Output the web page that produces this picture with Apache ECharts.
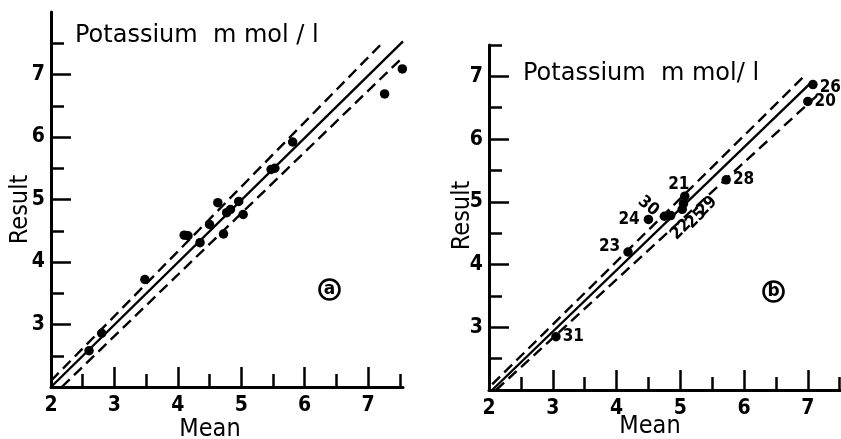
<!DOCTYPE html>
<html>
<head>
<meta charset="utf-8">
<script src="https://cdn.jsdelivr.net/npm/echarts@6/dist/echarts.min.js"></script>
<style>
  html, body { margin: 0; padding: 0; background: #fff; }
  #chart { width: 841px; height: 439px; }
</style>
</head>
<body>
<div id="chart"></div>
<script>
// Potassium (mmol/l): individual results plotted against the all-laboratory mean

// Panel a: unlabelled results
const leftMean   = [2.60, 2.80, 3.48, 4.10, 4.16, 4.35, 4.50, 4.63, 4.72, 4.77, 4.83, 4.96, 5.03, 5.47, 5.53, 5.81, 7.26, 7.54];
const leftResult = [2.58, 2.86, 3.72, 4.43, 4.42, 4.31, 4.60, 4.95, 4.45, 4.79, 4.84, 4.97, 4.76, 5.48, 5.50, 5.92, 6.69, 7.09];

// Panel b: laboratory numbers with their results
const rightLab    = ['20', '21', '22', '23', '24', '25', '26', '28', '29', '30', '31'];
const rightMean   = [7.00, 5.07, 4.85, 4.18, 4.50, 5.03, 7.08, 5.72, 5.05, 4.75, 3.05];
const rightResult = [6.60, 5.09, 4.78, 4.20, 4.72, 4.88, 6.87, 5.35, 4.97, 4.77, 2.85];

// Fitted line and limits (end points, [mean, result])
const leftFit    = [[2.00, 2.00], [7.55, 7.53]];
const leftUpper  = [[2.00, 2.10], [7.21, 7.49]];
const leftLower  = [[2.17, 2.00], [7.52, 7.25]];
const rightFit   = [[2.05, 2.00], [7.03, 6.88]];
const rightUpper = [[2.05, 2.09], [6.92, 6.98]];
const rightLower = [[2.11, 2.00], [7.14, 6.69]];

// Axis ticks and labels
const majorTicks   = [2, 3, 4, 5, 6, 7];
const minorTicks   = [2.5, 3.5, 4.5, 5.5, 6.5, 7.5];
const xTickLabels  = [2, 3, 4, 5, 6, 7];
const yTickLabels  = [3, 4, 5, 6, 7];

const INK = '#000';
const DIGIT_FONT = 'DejaVu Sans Condensed';

// Label placement for numbered laboratories in panel b
// (offsets of rotated labels are given in the label's own rotated frame)
const labelPlacement = {
  '20': { position: 'right', distance: 2 },
  '21': { position: 'inside', offset: [-6, -12] },
  '22': { position: 'inside', offset: [-2.8, 17], rotate: 45 },
  '23': { position: 'left', distance: 3, offset: [0, -5] },
  '24': { position: 'left', distance: 4 },
  '25': { position: 'inside', offset: [3.5, 16.3], rotate: 45 },
  '26': { position: 'right', distance: 2, offset: [0, 3] },
  '28': { position: 'right', distance: 2 },
  '29': { position: 'inside', offset: [14.5, 18.7], rotate: 45 },
  '30': { position: 'inside', offset: [-18.7, 2.6], rotate: -40 },
  '31': { position: 'right', distance: 2 }
};

function mainXAxis(gridIndex, max, nameGap, namePad) {
  return {
    type: 'value', gridIndex, min: 2, max, position: 'bottom',
    axisLine: { show: true, onZero: false, lineStyle: { color: INK, width: 3 } },
    axisTick: { show: true, inside: true, length: 20, customValues: majorTicks,
                lineStyle: { color: INK, width: 2.5 } },
    axisLabel: { customValues: xTickLabels, margin: 8, color: INK,
                 fontFamily: DIGIT_FONT, fontWeight: 'bold', fontSize: 21 },
    splitLine: { show: false },
    name: 'Mean', nameLocation: 'middle', nameGap, nameMoveOverlap: false,
    nameTextStyle: { color: INK, fontFamily: DIGIT_FONT, fontSize: 25, padding: namePad }
  };
}
function minorXAxis(gridIndex, max) {
  return {
    type: 'value', gridIndex, min: 2, max, position: 'bottom',
    axisLine: { show: false, onZero: false },
    axisTick: { show: true, inside: true, length: 13, customValues: minorTicks,
                lineStyle: { color: INK, width: 2.5 } },
    axisLabel: { show: false }, splitLine: { show: false }
  };
}
function mainYAxis(gridIndex, max, nameGap, namePad) {
  return {
    type: 'value', gridIndex, min: 2, max, position: 'left',
    axisLine: { show: true, onZero: false, lineStyle: { color: INK, width: 3 } },
    axisTick: { show: true, inside: true, length: 20, customValues: majorTicks,
                lineStyle: { color: INK, width: 2.5 } },
    axisLabel: { customValues: yTickLabels, margin: 6, color: INK,
                 fontFamily: DIGIT_FONT, fontWeight: 'bold', fontSize: 21 },
    splitLine: { show: false },
    name: 'Result', nameLocation: 'middle', nameGap, nameRotate: 90, nameMoveOverlap: false,
    nameTextStyle: { color: INK, fontFamily: DIGIT_FONT, fontSize: 25, padding: namePad }
  };
}
function minorYAxis(gridIndex, max) {
  return {
    type: 'value', gridIndex, min: 2, max, position: 'left',
    axisLine: { show: false, onZero: false },
    axisTick: { show: true, inside: true, length: 13, customValues: minorTicks,
                lineStyle: { color: INK, width: 2.5 } },
    axisLabel: { show: false }, splitLine: { show: false }
  };
}

function limitLine(data, xi, yi, dashed) {
  return {
    type: 'line', xAxisIndex: xi, yAxisIndex: yi, data,
    symbol: 'none', silent: true, clip: false,
    lineStyle: { color: INK, width: 2.4, type: dashed ? [11, 6] : 'solid' }
  };
}

const leftPoints = leftMean.map((m, i) => [m, leftResult[i]]);
const rightPoints = rightMean.map((m, i) => {
  const id = rightLab[i];
  const p = labelPlacement[id];
  return {
    value: [m, rightResult[i]],
    label: Object.assign({
      show: true, formatter: id, color: INK, opacity: 1, textBorderWidth: 0,
      fontFamily: DIGIT_FONT, fontWeight: 'bold', fontSize: 17,
      align: 'center', verticalAlign: 'middle'
    }, p, (p.position === 'left') ? { align: 'right' } : (p.position === 'right') ? { align: 'left' } : {})
  };
});

function circledLetter(letter, left, top) {
  return {
    type: 'group', left, top,
    children: [
      { type: 'circle', shape: { cx: 11, cy: 11, r: 10 },
        style: { fill: 'none', stroke: INK, lineWidth: 2.6 } },
      { type: 'text', x: 11, y: 11,
        style: { text: letter, fill: INK, font: 'bold 17px "DejaVu Sans"',
                 align: 'center', verticalAlign: 'middle',
                 textAlign: 'center', textVerticalAlign: 'middle' } }
    ]
  };
}

const chart = echarts.init(document.getElementById('chart'), null, { renderer: 'canvas' });
chart.setOption({
  backgroundColor: '#fff',
  animation: false,
  title: [
    { text: 'Potassium  m mol / l', left: 70, top: 19,
      textStyle: { color: INK, fontFamily: 'DejaVu Sans', fontWeight: 'normal', fontSize: 24 } },
    { text: 'Potassium  m mol/ l', left: 518, top: 57,
      textStyle: { color: INK, fontFamily: 'DejaVu Sans', fontWeight: 'normal', fontSize: 24 } }
  ],
  grid: [
    { left: 51, top: 12, width: 352, height: 375, outerBoundsMode: 'none', containLabel: false },
    { left: 489, top: 45, width: 352, height: 345, outerBoundsMode: 'none', containLabel: false }
  ],
  xAxis: [
    mainXAxis(0, 7.55, 30, [0, 34, 0, 0]),
    minorXAxis(0, 7.55),
    mainXAxis(1, 7.52, 24, [0, 30, 0, 0]),
    minorXAxis(1, 7.52)
  ],
  yAxis: [
    mainYAxis(0, 8, 18, [0, 20, 0, 0]),
    minorYAxis(0, 8),
    mainYAxis(1, 7.5, 14, [0, 0, 0, 4]),
    minorYAxis(1, 7.5)
  ],
  series: [
    limitLine(leftFit, 0, 0, false),
    limitLine(leftUpper, 0, 0, true),
    limitLine(leftLower, 0, 0, true),
    { type: 'scatter', xAxisIndex: 0, yAxisIndex: 0, data: leftPoints, clip: false,
      symbolSize: 9.5, itemStyle: { color: INK, opacity: 1 } },
    limitLine(rightFit, 2, 2, false),
    limitLine(rightUpper, 2, 2, true),
    limitLine(rightLower, 2, 2, true),
    { type: 'scatter', xAxisIndex: 2, yAxisIndex: 2, data: rightPoints, clip: false,
      symbolSize: 9.5, itemStyle: { color: INK, opacity: 1 } }
  ],
  graphic: [
    circledLetter('a', 317, 277),
    circledLetter('b', 761, 279)
  ]
});
</script>
</body>
</html>
